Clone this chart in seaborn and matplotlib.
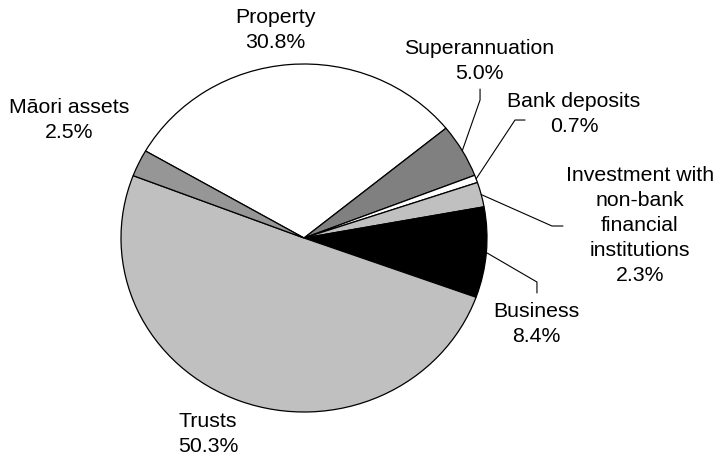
import numpy as np
import matplotlib
matplotlib.use("Agg")
import matplotlib.pyplot as plt
import seaborn as sns

# Asset categories (clockwise from the top-left) and their share of total wealth
categories = [
    "Property",
    "Superannuation",
    "Bank deposits",
    "Investment with\nnon-bank\nfinancial\ninstitutions",
    "Business",
    "Trusts",
    "Māori assets",
]
shares = [30.8, 5.0, 0.7, 2.3, 8.4, 50.3, 2.5]
colors = ["#ffffff", "#808080", "#ffffff", "#c0c0c0", "#000000", "#c0c0c0", "#969696"]

# Label centres (data units) and optional leader-line elbows: (text-side point, bend point)
label_pos = [
    (-0.158, 1.193),
    (0.956, 1.020),
    (1.475, 0.713),
    (1.836, 0.069),
    (1.268, -0.494),
    (-0.525, -1.126),
    (-1.284, 0.678),
]
leaders = {
    1: [(0.962, 0.856), (0.962, 0.793)],
    2: [(1.208, 0.678), (1.153, 0.678)],
    3: [(1.415, 0.069), (1.355, 0.069)],
    4: [(1.273, -0.316), (1.273, -0.253)],
}

sns.set_theme(style="white")
plt.rcParams["font.family"] = ["Liberation Sans", "DejaVu Sans"]

fig = plt.figure(figsize=(7.2, 4.57), dpi=100)
ax = fig.add_axes([0, 0, 1, 1])

wedges, _ = ax.pie(
    shares,
    colors=colors,
    startangle=150,
    counterclock=False,
    radius=1.0,
    wedgeprops=dict(edgecolor="black", linewidth=0.9),
)

# Slightly flattened pie: more pixels per unit horizontally than vertically
ax.set_aspect("auto")
ax.set_xlim(-304 / 183, (720 - 304) / 183)
ax.set_ylim(-219 / 174, 238 / 174)
ax.axis("off")

for i, (w, name, val) in enumerate(zip(wedges, categories, shares)):
    x, y = label_pos[i]
    ax.text(x, y, f"{name}\n{val:.1f}%", ha="center", va="center",
            fontsize=15.3, color="black", linespacing=1.4)
    if i in leaders:
        mid = np.deg2rad((w.theta1 + w.theta2) / 2)
        edge = (np.cos(mid), np.sin(mid))
        pts = leaders[i] + [edge]
        ax.plot([p[0] for p in pts], [p[1] for p in pts], color="black", lw=0.8)

fig.savefig("out.png", dpi=100)
